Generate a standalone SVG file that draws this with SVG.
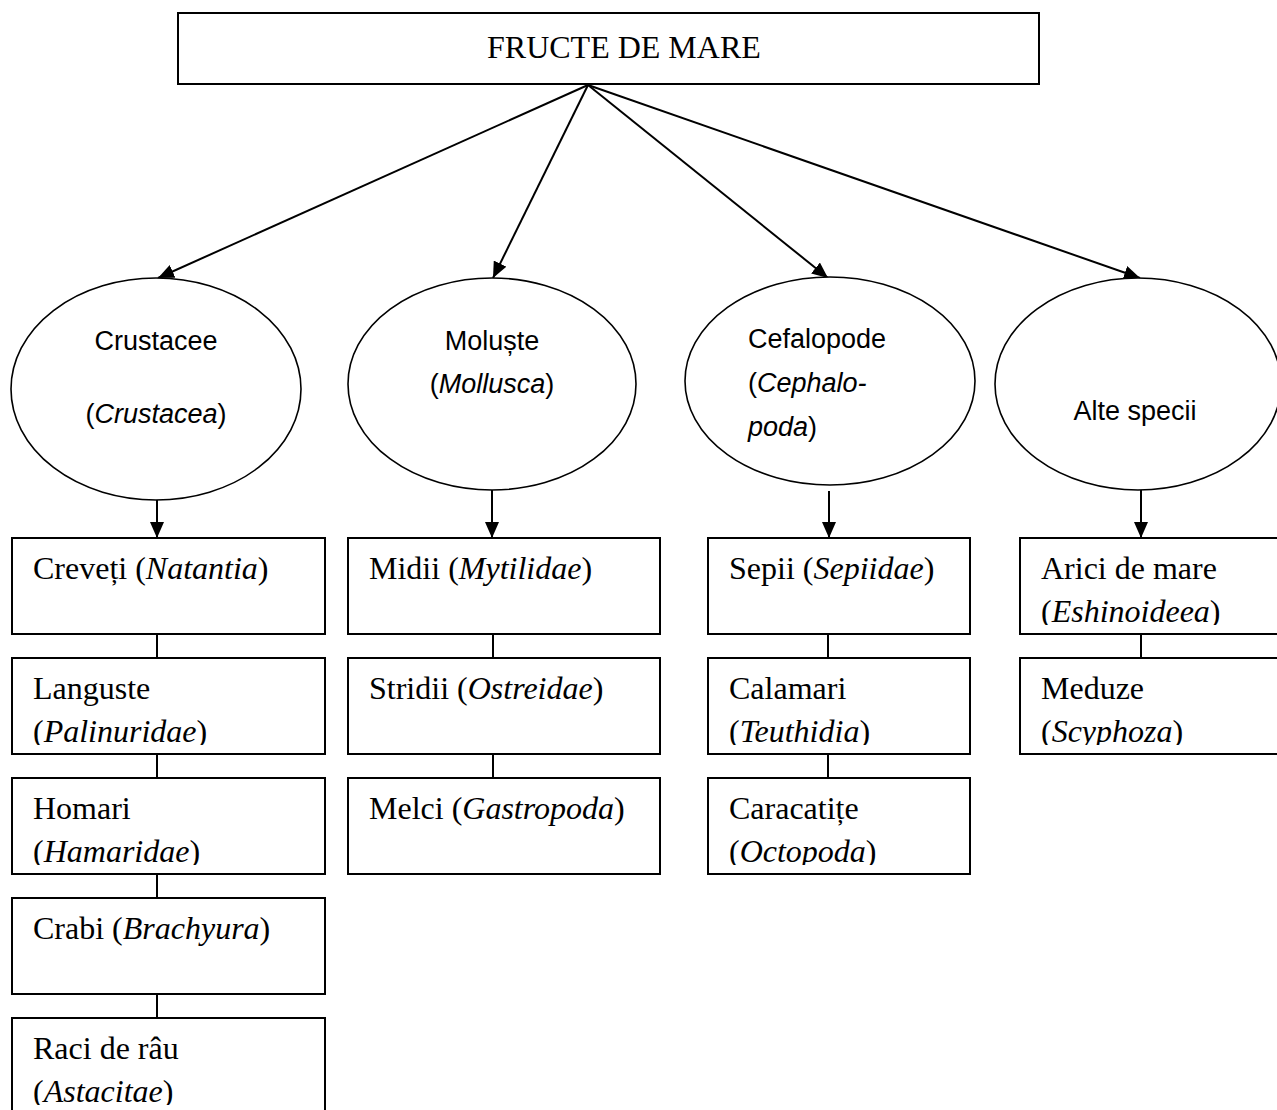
<svg xmlns="http://www.w3.org/2000/svg" width="1277" height="1110" viewBox="0 0 1277 1110">
<style>
.box{fill:#fff;stroke:#000;stroke-width:2}
.ell{fill:#fff;stroke:#000;stroke-width:1.6}
.line{fill:none;stroke:#000;stroke-width:2}
.serif{font-family:"Liberation Serif","Times New Roman",serif;font-size:32px;fill:#000}
.sans{font-family:"Liberation Sans",Arial,sans-serif;font-size:27px;fill:#000}
.it{font-style:italic}
</style>
<defs>
<marker id="ah" markerUnits="userSpaceOnUse" markerWidth="16" markerHeight="14" refX="16" refY="7" orient="auto">
<path d="M0,0 L16,7 L0,14 z" fill="#000"/>
</marker>
<clipPath id="c11"><rect x="12" y="538" width="313" height="87"/></clipPath>
<clipPath id="c12"><rect x="12" y="658" width="313" height="87"/></clipPath>
<clipPath id="c13"><rect x="12" y="778" width="313" height="87"/></clipPath>
<clipPath id="c14"><rect x="12" y="898" width="313" height="87"/></clipPath>
<clipPath id="c15"><rect x="12" y="1018" width="313" height="87"/></clipPath>
<clipPath id="c21"><rect x="348" y="538" width="312" height="87"/></clipPath>
<clipPath id="c22"><rect x="348" y="658" width="312" height="87"/></clipPath>
<clipPath id="c23"><rect x="348" y="778" width="312" height="87"/></clipPath>
<clipPath id="c31"><rect x="708" y="538" width="262" height="87"/></clipPath>
<clipPath id="c32"><rect x="708" y="658" width="262" height="87"/></clipPath>
<clipPath id="c33"><rect x="708" y="778" width="262" height="87"/></clipPath>
<clipPath id="c41"><rect x="1020" y="538" width="270" height="87"/></clipPath>
<clipPath id="c42"><rect x="1020" y="658" width="270" height="87"/></clipPath>
</defs>
<rect width="1277" height="1110" fill="#fff"/>

<g id="connectors">
<line class="line" x1="588" y1="85" x2="158" y2="278" marker-end="url(#ah)"/>
<line class="line" x1="588" y1="85" x2="493" y2="278" marker-end="url(#ah)"/>
<line class="line" x1="588" y1="85" x2="828" y2="278" marker-end="url(#ah)"/>
<line class="line" x1="588" y1="85" x2="1140" y2="278" marker-end="url(#ah)"/>
<line class="line" x1="157" y1="500" x2="157" y2="538" marker-end="url(#ah)"/>
<line class="line" x1="492" y1="490" x2="492" y2="538" marker-end="url(#ah)"/>
<line class="line" x1="829" y1="491" x2="829" y2="538" marker-end="url(#ah)"/>
<line class="line" x1="1141" y1="490" x2="1141" y2="538" marker-end="url(#ah)"/>
<line class="line" x1="157" y1="634" x2="157" y2="658"/>
<line class="line" x1="157" y1="754" x2="157" y2="778"/>
<line class="line" x1="157" y1="874" x2="157" y2="898"/>
<line class="line" x1="157" y1="994" x2="157" y2="1018"/>
<line class="line" x1="493" y1="634" x2="493" y2="658"/>
<line class="line" x1="493" y1="754" x2="493" y2="778"/>
<line class="line" x1="828" y1="634" x2="828" y2="658"/>
<line class="line" x1="828" y1="754" x2="828" y2="778"/>
<line class="line" x1="1141" y1="634" x2="1141" y2="658"/>
</g>

<g id="root">
<rect class="box" x="178" y="13" width="861" height="71"/>
<text class="serif" x="487" y="58">FRUCTE DE MARE</text>
</g>

<g id="crustacee">
<ellipse class="ell" cx="156" cy="389" rx="145" ry="111"/>
<text class="sans" x="156" y="350" text-anchor="middle">Crustacee</text>
<text class="sans" x="156" y="423" text-anchor="middle">(<tspan class="it">Crustacea</tspan>)</text>
</g>
<g id="moluste">
<ellipse class="ell" cx="492" cy="384" rx="144" ry="106"/>
<text class="sans" x="492" y="350" text-anchor="middle">Moluște</text>
<text class="sans" x="492" y="393" text-anchor="middle">(<tspan class="it">Mollusca</tspan>)</text>
</g>
<g id="cefalopode">
<ellipse class="ell" cx="830" cy="381" rx="145" ry="104"/>
<text class="sans" x="748" y="348">Cefalopode</text>
<text class="sans" x="748" y="392">(<tspan class="it">Cephalo-</tspan></text>
<text class="sans" x="748" y="436"><tspan class="it">poda</tspan>)</text>
</g>
<g id="alte">
<ellipse class="ell" cx="1138" cy="384" rx="143" ry="106"/>
<text class="sans" x="1135" y="420" text-anchor="middle">Alte specii</text>
</g>

<g id="creveti">
<rect class="box" x="12" y="538" width="313" height="96"/>
<g clip-path="url(#c11)"><text class="serif" x="33" y="579">Creveți (<tspan class="it">Natantia</tspan>)</text></g>
</g>
<g id="languste">
<rect class="box" x="12" y="658" width="313" height="96"/>
<g clip-path="url(#c12)"><text class="serif" x="33" y="699">Languste</text><text class="serif" x="33" y="742">(<tspan class="it">Palinuridae</tspan>)</text></g>
</g>
<g id="homari">
<rect class="box" x="12" y="778" width="313" height="96"/>
<g clip-path="url(#c13)"><text class="serif" x="33" y="819">Homari</text><text class="serif" x="33" y="862">(<tspan class="it">Hamaridae</tspan>)</text></g>
</g>
<g id="crabi">
<rect class="box" x="12" y="898" width="313" height="96"/>
<g clip-path="url(#c14)"><text class="serif" x="33" y="939">Crabi (<tspan class="it">Brachyura</tspan>)</text></g>
</g>
<g id="raci">
<rect class="box" x="12" y="1018" width="313" height="96"/>
<g clip-path="url(#c15)"><text class="serif" x="33" y="1059">Raci de râu</text><text class="serif" x="33" y="1102">(<tspan class="it">Astacitae</tspan>)</text></g>
</g>

<g id="midii">
<rect class="box" x="348" y="538" width="312" height="96"/>
<g clip-path="url(#c21)"><text class="serif" x="369" y="579">Midii (<tspan class="it">Mytilidae</tspan>)</text></g>
</g>
<g id="stridii">
<rect class="box" x="348" y="658" width="312" height="96"/>
<g clip-path="url(#c22)"><text class="serif" x="369" y="699">Stridii (<tspan class="it">Ostreidae</tspan>)</text></g>
</g>
<g id="melci">
<rect class="box" x="348" y="778" width="312" height="96"/>
<g clip-path="url(#c23)"><text class="serif" x="369" y="819">Melci (<tspan class="it">Gastropoda</tspan>)</text></g>
</g>

<g id="sepii">
<rect class="box" x="708" y="538" width="262" height="96"/>
<g clip-path="url(#c31)"><text class="serif" x="729" y="579">Sepii (<tspan class="it">Sepiidae</tspan>)</text></g>
</g>
<g id="calamari">
<rect class="box" x="708" y="658" width="262" height="96"/>
<g clip-path="url(#c32)"><text class="serif" x="729" y="699">Calamari</text><text class="serif" x="729" y="742">(<tspan class="it">Teuthidia</tspan>)</text></g>
</g>
<g id="caracatite">
<rect class="box" x="708" y="778" width="262" height="96"/>
<g clip-path="url(#c33)"><text class="serif" x="729" y="819">Caracatițe</text><text class="serif" x="729" y="862">(<tspan class="it">Octopoda</tspan>)</text></g>
</g>

<g id="arici">
<rect class="box" x="1020" y="538" width="270" height="96"/>
<g clip-path="url(#c41)"><text class="serif" x="1041" y="579">Arici de mare</text><text class="serif" x="1041" y="622">(<tspan class="it">Eshinoideea</tspan>)</text></g>
</g>
<g id="meduze">
<rect class="box" x="1020" y="658" width="270" height="96"/>
<g clip-path="url(#c42)"><text class="serif" x="1041" y="699">Meduze</text><text class="serif" x="1041" y="742">(<tspan class="it">Scyphoza</tspan>)</text></g>
</g>
</svg>
